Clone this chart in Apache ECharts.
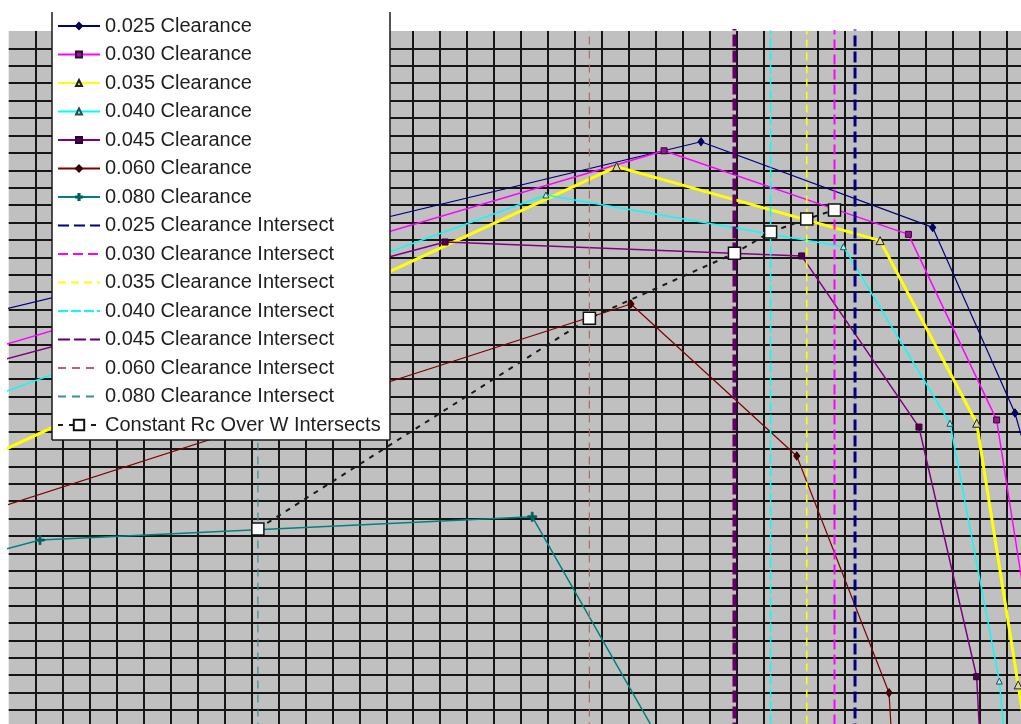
<!DOCTYPE html>
<html>
<head>
<meta charset="utf-8">
<script src="https://cdn.jsdelivr.net/npm/echarts@6/dist/echarts.min.js"></script>
<style>
  html, body { margin: 0; padding: 0; background: #ffffff; }
  #chart { width: 1021px; height: 724px; }
</style>
</head>
<body>
<div id="chart"></div>
<script>
// Clearance levels shown in the chart
const clearances = ['0.025', '0.030', '0.035', '0.040', '0.045', '0.060', '0.080'];

// Curve points [x, y] in grid units (one grid cell = 1 unit on each axis)
const clearance025 = [[-1, 23.70], [25.67, 33.64], [34.26, 28.72], [37.31, 18.06], [38.42, 11.91]];
const clearance030 = [[-1, 21.60], [24.30, 33.12], [33.36, 28.32], [36.63, 17.66], [37.68, 7.32]];
const clearance035 = [[-1, 15.35], [22.54, 32.21], [32.31, 27.96], [35.89, 17.47], [37.43, 2.44], [37.87, -1.87]];
const clearance040 = [[-1, 18.79], [19.92, 30.58], [30.95, 27.61], [34.90, 17.47], [36.73, 2.66], [37.00, -1.87]];
const clearance045 = [[-1, 20.79], [16.18, 27.88], [29.40, 27.08], [33.75, 17.25], [35.89, 2.91], [36.05, -1.87]];
const clearance060 = [[-1, 12.31], [23.07, 24.32], [29.22, 15.59], [32.64, 1.99], [32.79, -1.87]];
const clearance080 = [[-1, 9.87], [1.16, 10.76], [19.41, 12.10], [24.89, -2.79]];

// x position of each clearance's intersect line (same order as clearances)
const intersectX = [31.38, 30.62, 29.59, 28.25, 26.91, 21.53, 9.24];

// Points where the constant Rc/W line crosses each curve
const rcOverWIntersects = [[9.24, 11.40], [21.53, 23.50], [26.91, 27.23], [28.25, 28.45], [29.59, 29.20], [30.62, 29.72]];

const curveData = [clearance025, clearance030, clearance035, clearance040, clearance045, clearance060, clearance080];

// Styling for each clearance curve
const curveStyles = [
  { line: '#000080', width: 1.2, symbol: 'diamond', size: [6, 8], fill: '#000080', border: '#000040' },
  { line: '#ff00ff', width: 1.5, symbol: 'rect', size: 6, fill: '#8b1a8b', border: '#400040' },
  { line: '#ffff00', width: 3, symbol: 'triangle', size: 8, fill: '#d8d8a0', border: '#202020' },
  { line: '#00ffff', width: 1.5, symbol: 'triangle', size: 6, fill: '#b0f0f0', border: '#205050' },
  { line: '#800080', width: 1.5, symbol: 'rect', size: 6, fill: '#500050', border: '#300030' },
  { line: '#800000', width: 1.2, symbol: 'diamond', size: [6, 8], fill: '#500000', border: '#300000' },
  { line: '#008080', width: 1.5, symbol: 'path://M4,0H6V4H10V6H6V10H4V6H0V4H4Z', size: 9, fill: '#006060', border: '#006060' }
];

// Styling for each vertical intersect line
const intersectStyles = [
  { color: '#000080', width: 3, dash: [11, 5] },
  { color: '#ff00ff', width: 2, dash: [10, 5] },
  { color: '#ffff00', width: 1.6, dash: [8, 5] },
  { color: '#00ffff', width: 1.5, dash: [10, 3] },
  { color: '#600060', width: 4, dash: [12, 4] },
  { color: '#a86a6a', width: 1.2, dash: [8, 6] },
  { color: '#3a8f8f', width: 1.2, dash: [8, 6] }
];

const fontFamily = '"Liberation Sans", Arial, sans-serif';

const series = [];
clearances.forEach((c, i) => {
  const st = curveStyles[i];
  series.push({
    name: c + ' Clearance',
    type: 'line',
    data: curveData[i],
    symbol: st.symbol,
    symbolSize: st.size,
    showSymbol: true,
    lineStyle: { color: st.line, width: st.width },
    itemStyle: { color: st.fill, borderColor: st.border, borderWidth: 1 },
    emphasis: { disabled: true },
    clip: true
  });
});
clearances.forEach((c, i) => {
  const st = intersectStyles[i];
  series.push({
    name: c + ' Clearance Intersect',
    type: 'line',
    data: [[intersectX[i], -5], [intersectX[i], 45]],
    symbol: 'none',
    lineStyle: { color: st.color, width: st.width, type: st.dash },
    itemStyle: { color: st.color },
    emphasis: { disabled: true },
    clip: true
  });
});
series.push({
  name: 'Constant Rc Over W Intersects',
  type: 'line',
  data: rcOverWIntersects,
  symbol: 'rect',
  symbolSize: 12,
  lineStyle: { color: '#1a1a1a', width: 2, type: [5, 6] },
  itemStyle: { color: '#ffffff', borderColor: '#111111', borderWidth: 1.5 },
  emphasis: { disabled: true },
  z: 3,
  clip: true
});

const curveLegend = [];
clearances.forEach(c => curveLegend.push({ name: c + ' Clearance' }));
clearances.forEach(c => curveLegend.push({ name: c + ' Clearance Intersect', itemStyle: { opacity: 0 } }));

const legendText = { fontSize: 20, lineHeight: 20, fontFamily: fontFamily, color: '#1e1e1e' };

const option = {
  animation: false,
  backgroundColor: '#ffffff',
  grid: {
    left: 8.7, top: 31, width: 1024.86, height: 696.4,
    show: true, backgroundColor: '#c0c0c0', borderWidth: 0,
    outerBoundsMode: 'none'
  },
  xAxis: {
    type: 'value', min: 0, max: 38, interval: 1,
    axisLine: { show: false }, axisTick: { show: false }, axisLabel: { show: false },
    splitLine: { show: true, showMinLine: false, lineStyle: { color: '#161616', width: 2 } }
  },
  yAxis: {
    type: 'value', min: 0, max: 40, interval: 1,
    axisLine: { show: false }, axisTick: { show: false }, axisLabel: { show: false },
    splitLine: { show: true, showMaxLine: false, lineStyle: { color: '#161616', width: 2 } }
  },
  legend: [
    {
      zlevel: 2,
      orient: 'vertical', left: 57, top: 16, padding: 0,
      itemWidth: 42, itemHeight: 7.5, itemGap: 8.5,
      selectedMode: false,
      data: curveLegend,
      textStyle: legendText
    },
    {
      zlevel: 2,
      orient: 'vertical', left: 57, top: 415, padding: 0,
      itemWidth: 42, itemHeight: 13, itemGap: 8,
      selectedMode: false,
      data: [{ name: 'Constant Rc Over W Intersects' }],
      textStyle: legendText
    }
  ],
  // White legend panel with its frame
  graphic: {
    zlevel: 1,
    elements: [
      { type: 'rect', zlevel: 1, shape: { x: 52, y: 12, width: 338, height: 428 }, style: { fill: '#ffffff' } },
      { type: 'line', zlevel: 1, shape: { x1: 52, y1: 12, x2: 52, y2: 440 }, style: { stroke: '#1a1a1a', lineWidth: 1.5 } },
      { type: 'line', zlevel: 1, shape: { x1: 390, y1: 12, x2: 390, y2: 440 }, style: { stroke: '#1a1a1a', lineWidth: 1.5 } },
      { type: 'line', zlevel: 1, shape: { x1: 52, y1: 440, x2: 390, y2: 440 }, style: { stroke: '#1a1a1a', lineWidth: 1.5 } }
    ]
  },
  series: series
};

const chart = echarts.init(document.getElementById('chart'), null, { renderer: 'canvas' });
chart.setOption(option);
</script>
</body>
</html>
